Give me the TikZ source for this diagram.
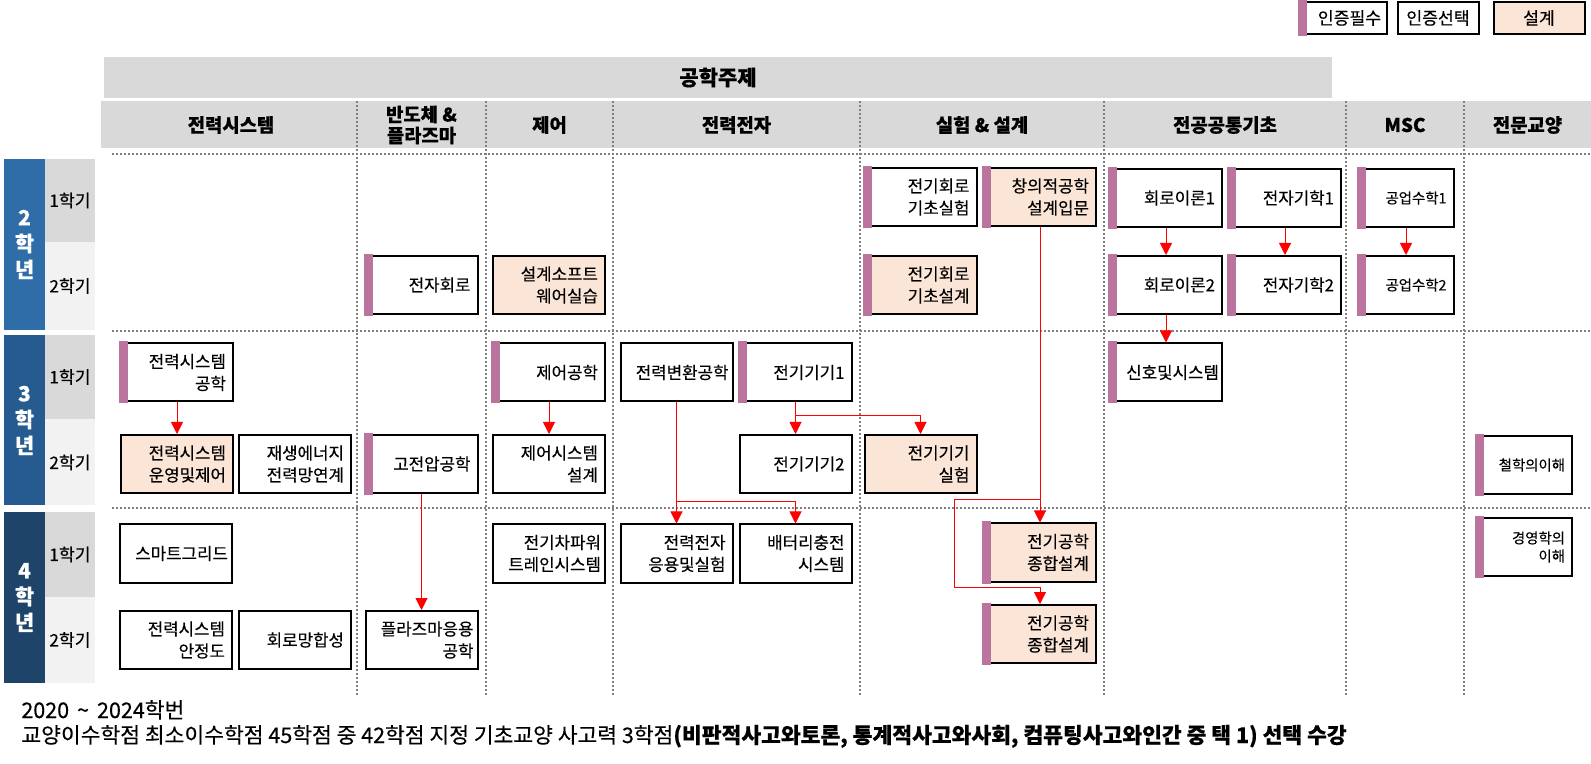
\documentclass[tikz,border=0pt]{standalone}
\usepackage{fontspec}
\setmainfont{Noto Sans CJK KR}[FakeBold=0.3]
\usetikzlibrary{arrows.meta, calc}

\definecolor{design}{RGB}{251,229,214}
\definecolor{reqbar}{RGB}{187,116,158}
\definecolor{bandgray}{RGB}{217,217,217}
\definecolor{semlight}{RGB}{242,242,242}
\definecolor{dotgray}{RGB}{128,128,128}
\definecolor{yeartwo}{RGB}{46,109,168}
\definecolor{yearthree}{RGB}{38,91,145}
\definecolor{yearfour}{RGB}{31,68,106}

\newcommand{\boxfont}{\fontsize{8.4}{11}\selectfont}
\newcommand{\slimfont}{\fontsize{7.2}{9}\selectfont}
\newcommand{\hdrfont}{\fontsize{9.4}{10.5}\selectfont\bfseries}
\newcommand{\notefont}{\fontsize{10.75}{12.5}\selectfont}

\begin{document}
\begin{tikzpicture}[x=0.5pt, y=-0.5pt,
  course/.style={draw, line width=1pt, minimum width=56pt, minimum height=29pt,
    inner xsep=3.5pt, inner ysep=0pt, text width=49pt, align=right, font=\boxfont},
  wide/.style={inner xsep=2pt, text width=52pt},
  slim/.style={course, minimum width=47.5pt, text width=40.5pt, font=\slimfont},
  dsn/.style={fill=design},
  hdr/.style={font=\hdrfont, align=center},
  semcell/.style={minimum width=25pt, inner sep=0pt, font=\fontsize{8.6}{10}\selectfont},
  yearblk/.style={minimum width=20.5pt, inner sep=0pt, text=white, align=center,
    font=\fontsize{10.5}{13}\selectfont\bfseries},
  divider/.style={dotgray, line width=1pt, dash pattern=on 1pt off 1pt},
  arr/.style={-{Triangle[width=6pt,length=6pt]}, red, line width=0.5pt},
  leg/.style={draw, line width=1pt, minimum height=16pt, inner sep=0pt, font=\fontsize{8.6}{10}\selectfont}
]
  \useasboundingbox (0,0) rectangle (1591,764);

  % ----- Legend (top right) -----
  \node[leg, minimum width=43.5pt] (legreq) at (1343.5,18) {\hspace{6pt}인증필수};
  \node[leg, minimum width=40.5pt] (legopt) at (1438,18) {인증선택};
  \node[leg, dsn, minimum width=45.5pt] (legdes) at (1539,18) {설계};

  % ----- Bands -----
  \node[fill=bandgray, minimum width=614pt, minimum height=20.5pt, inner sep=0pt,
        font=\fontsize{10.5}{11}\selectfont\bfseries] (topic) at (718,77.5) {공학주제};
  \fill[bandgray] (101,101) rectangle (1591,148);

  \node[hdr] (hpower) at (231,125) {전력시스템};
  \node[hdr] (hsemi)  at (421.5,125) {반도체 \&\\플라즈마};
  \node[hdr] (hctrl)  at (549.5,125) {제어};
  \node[hdr] (hpe)    at (736.5,125) {전력전자};
  \node[hdr] (hlab)   at (982,125) {실험 \& 설계};
  \node[hdr] (hcore)  at (1225,125) {전공공통기초};
  \node[hdr] (hmsc)   at (1405,125) {MSC};
  \node[hdr] (hlib)   at (1527.5,125) {전문교양};

  % ----- Years and semesters (left) -----
  \node[yearblk, fill=yeartwo, minimum height=85.5pt]   (ytwo)   at (24.5,244.5) {2\\학\\년};
  \node[yearblk, fill=yearthree, minimum height=85pt]   (ythree) at (24.5,420.5) {3\\학\\년};
  \node[yearblk, fill=yearfour, minimum height=85.5pt]  (yfour)  at (24.5,597.5) {4\\학\\년};

  \node[semcell, fill=bandgray, minimum height=41.5pt] (stwoa)   at (70,200.5) {1학기};
  \node[semcell, fill=semlight, minimum height=44pt]   (stwob)   at (70,286) {2학기};
  \node[semcell, fill=bandgray, minimum height=42pt]   (sthreea) at (70,377) {1학기};
  \node[semcell, fill=semlight, minimum height=43pt]   (sthreeb) at (70,462.5) {2학기};
  \node[semcell, fill=bandgray, minimum height=42.5pt] (sfoura)  at (70,554.5) {1학기};
  \node[semcell, fill=semlight, minimum height=43pt]   (sfourb)  at (70,640) {2학기};

  % ----- Dotted grid -----
  \foreach \y in {154,331,508}
    \draw[divider] (112,\y) -- (1591,\y);
  \foreach \x in {357,486,613,860,1104,1346,1464}
    \draw[divider] (\x,101) -- (\x,695);

  % ----- 2학년 -----
  \node[course]      (eclab) at (920.5,197) {전기회로\\기초실험};
  \node[course, dsn] (creat) at (1040,197) {창의적공학\\설계입문};
  \node[course]      (ctone) at (1166,198) {회로이론1};
  \node[course]      (emgone) at (1285,198) {전자기학1};
  \node[slim]        (mathone) at (1406,198) {공업수학1};
  \node[course]      (ecirc) at (421.5,285) {전자회로};
  \node[course, dsn] (dsw)   at (549,285) {설계소프트\\웨어실습};
  \node[course, dsn] (ecdes) at (920.5,285) {전기회로\\기초설계};
  \node[course]      (cttwo) at (1166,285) {회로이론2};
  \node[course]      (emgtwo) at (1285,285) {전자기학2};
  \node[slim]        (mathtwo) at (1406,285) {공업수학2};

  % ----- 3학년 -----
  \node[course]      (psys)  at (177,372.5) {전력시스템\\공학};
  \node[course]      (ctrl)  at (549,372.5) {제어공학};
  \node[course, wide] (pconv) at (676.5,372.5) {전력변환공학};
  \node[course]      (emone) at (795.5,372.5) {전기기기1};
  \node[course, inner xsep=1.5pt, text width=53pt] (sig) at (1166,372.5) {신호및시스템};
  \node[course, dsn] (psop)  at (177,464) {전력시스템\\운영및제어};
  \node[course]      (renew) at (295,464) {재생에너지\\전력망연계};
  \node[course]      (hv)    at (421.5,464) {고전압공학};
  \node[course]      (ctrlsys) at (549,464) {제어시스템\\설계};
  \node[course]      (emtwo) at (795.5,464) {전기기기2};
  \node[course, dsn] (emlab) at (920.5,464) {전기기기\\실험};
  \node[slim]        (phil)  at (1524.5,465) {철학의이해};

  % ----- 4학년 -----
  \node[course, wide] (smart) at (176,553.5) {스마트그리드};
  \node[course, wide] (ev)    at (549,553.5) {전기차파워\\트레인시스템};
  \node[course]      (peapp) at (676.5,553.5) {전력전자\\응용및실험};
  \node[course]      (batt)  at (795.5,553.5) {배터리충전\\시스템};
  \node[course, dsn] (capone) at (1040,552.5) {전기공학\\종합설계};
  \node[slim]        (mgmt)  at (1524.5,547) {경영학의\\이해};
  \node[course]      (pstab) at (176,640) {전력시스템\\안정도};
  \node[course]      (netsyn) at (295,640) {회로망합성};
  \node[course, wide] (plasma) at (421.5,640) {플라즈마응용\\공학};
  \node[course, dsn] (captwo) at (1040,634) {전기공학\\종합설계};

  % ----- 인증필수 bars -----
  \foreach \n in {legreq,eclab,creat,ctone,emgone,mathone,ecirc,ecdes,cttwo,emgtwo,mathtwo,
                  psys,ctrl,emone,sig,hv,phil,capone,mgmt,captwo}
    \fill[reqbar] ([xshift=-0.5pt,yshift=0.5pt]\n.north west)
      rectangle ([xshift=4pt,yshift=-0.5pt]\n.south west);

  % ----- Prerequisite arrows -----
  \coordinate (emsplit)  at (795.5,416);
  \coordinate (pcsplit)  at (676.5,502);
  \coordinate (capsplit) at (1040,500);
  \coordinate (capbend)  at (954,587);

  \draw[arr] (ctone) -- (cttwo);
  \draw[arr] (emgone) -- (emgtwo);
  \draw[arr] (mathone) -- (mathtwo);
  \draw[arr] (cttwo) -- (sig);
  \draw[arr] (psys) -- (psop);
  \draw[arr] (ctrl) -- (ctrlsys);
  \draw[arr] (emone) -- (emtwo);
  \draw[arr] (emsplit) -| (emlab);
  \draw[arr] (hv) -- (plasma);
  \draw[arr] (pconv) -- (peapp);
  \draw[arr] (pcsplit) -| (batt);
  \draw[arr] (creat) -- (capone);
  \draw[arr] (capsplit) -| (capbend) -| (captwo);

  % ----- Note (bottom) -----
  \node[anchor=base west, inner sep=0pt, font=\notefont] (cohort) at (21,718)
    {2020\hspace{4pt}\textasciitilde\hspace{4pt}2024학번};
  \node[anchor=base west, inner sep=0pt, font=\notefont] (credit) at (21,743)
    {교양이수학점 최소이수학점 45학점 중 42학점 지정 기초교양 사고력 3학점\textbf{(비판적사고와토론, 통계적사고와사회, 컴퓨팅사고와인간 중 택 1) 선택 수강}};
\end{tikzpicture}
\end{document}
